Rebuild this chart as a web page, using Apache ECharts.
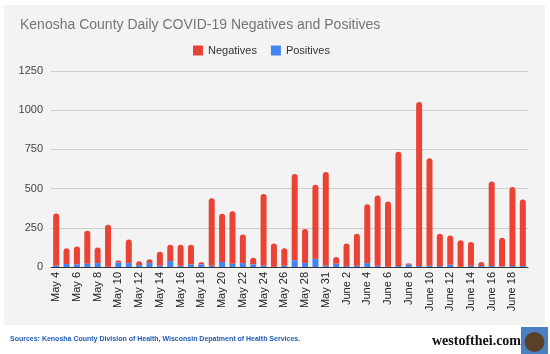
<!DOCTYPE html>
<html><head><meta charset="utf-8">
<script src="https://cdn.jsdelivr.net/npm/echarts@6/dist/echarts.min.js"></script>
<style>html,body{margin:0;padding:0;background:#fff}#c{width:550px;height:354px}</style>
</head><body><div id="c"></div>
<script>
const categories = ["May 4","May 5","May 6","May 7","May 8","May 9","May 10","May 11","May 12","May 13","May 14","May 15","May 16","May 17","May 18","May 19","May 20","May 21","May 22","May 23","May 24","May 25","May 26","May 27","May 28","May 29","May 31","June 1","June 2","June 3","June 4","June 5","June 6","June 7","June 8","June 9","June 10","June 11","June 12","June 13","June 14","June 15","June 16","June 17","June 18","June 19"];
const positives = [10,19,17,21,25,2,28,25,12,25,10,38,8,17,17,8,32,21,25,17,10,2,8,44,25,53,10,21,6,8,25,8,2,6,15,6,8,6,15,2,8,6,6,4,6,6];
const totals = [341,119,131,231,125,269,42,176,36,49,97,142,142,142,30,439,339,356,208,59,466,150,119,593,242,525,606,64,150,212,400,456,417,735,23,1053,693,212,201,170,159,32,545,186,511,430];
const negatives = totals.map((t,i)=>t-positives[i]);
const yTicks = [0,250,500,750,1000,1250];

const chart = echarts.init(document.getElementById('c'), null, {renderer:'canvas'});
chart.setOption({
  backgroundColor:'#ffffff',
  animation:false,
  graphic:[
    {type:'rect', z:-10, shape:{x:4,y:5,width:541,height:320}, style:{fill:'#f3f3f3'}},
    {type:'text', left:10, top:336, style:{text:'Sources: Kenosha County Division of Health, Wisconsin Depatment of Health Services.', fill:'#1f5bb5', font:'bold 7px "Liberation Sans", Arial, sans-serif'}},
    {type:'text', left:432, top:334, style:{text:'westofthei.com', fill:'#111', font:'bold 14px "Liberation Serif", "DejaVu Serif", serif'}},
    {type:'rect', shape:{x:521,y:327,width:27,height:27}, style:{fill:'#4a7fc4'}},
    {type:'circle', shape:{cx:534.5,cy:342,r:10}, style:{fill:'#5a4028'}}
  ],
  title:{text:'Kenosha County Daily COVID-19 Negatives and Positives', left:15, top:13,
    textStyle:{color:'#757575', fontSize:14, fontWeight:'normal', fontFamily:'"Liberation Sans", Arial, sans-serif'}},
  legend:{top:40, left:188, itemWidth:10, itemHeight:10, itemGap:14, icon:'rect',
    data:[{name:'Negatives',itemStyle:{color:'#ea4335'}},{name:'Positives',itemStyle:{color:'#4285f4'}}],
    textStyle:{color:'#333', fontSize:11, fontFamily:'"Liberation Sans", Arial, sans-serif'}},
  grid:{left:51, right:22, top:71, bottom:87},
  xAxis:{type:'category', data:categories,
    axisLine:{lineStyle:{color:'#333'}}, axisTick:{show:false},
    axisLabel:{rotate:90, interval:1, color:'#222', fontSize:11, margin:5, fontFamily:'"Liberation Sans", Arial, sans-serif'}},
  yAxis:{type:'value', min:0, max:1250, interval:250,
    axisLine:{show:false}, axisTick:{show:false},
    splitLine:{lineStyle:{color:'#cccccc'}},
    axisLabel:{color:'#444', fontSize:11, margin:8, fontFamily:'"Liberation Sans", Arial, sans-serif',
      formatter:v=>yTicks.includes(v)?String(v):''}},
  series:[
    {name:'Positives', type:'bar', stack:'s', data:positives, barWidth:6, itemStyle:{color:'#4285f4'}},
    {name:'Negatives', type:'bar', stack:'s', data:negatives, barWidth:6, itemStyle:{color:'#ea4335', borderRadius:[3,3,0,0]}}
  ]
});
</script></body></html>
